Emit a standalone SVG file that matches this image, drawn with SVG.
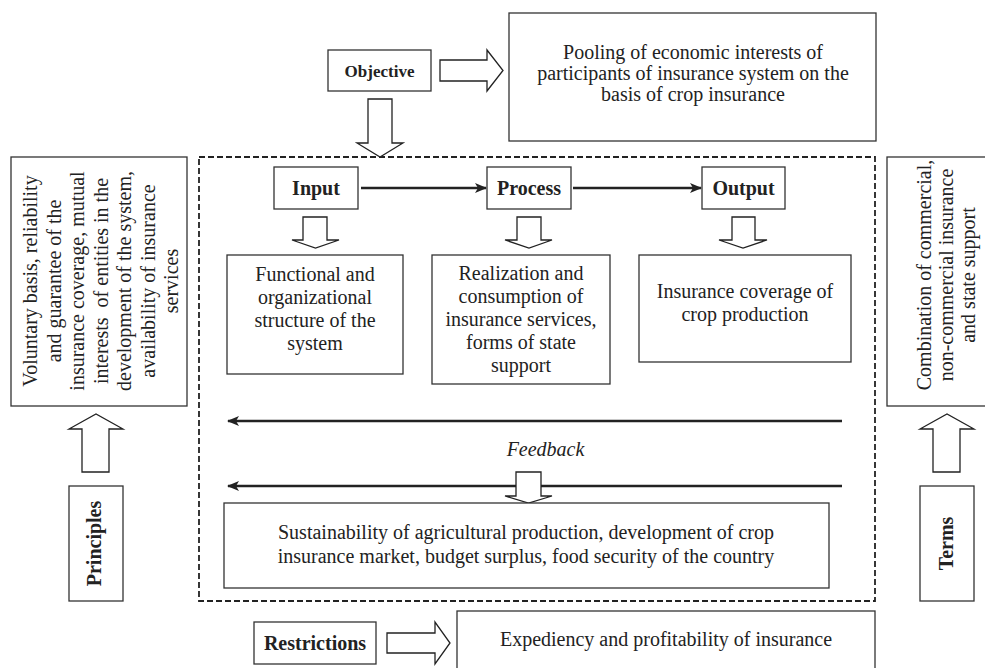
<svg xmlns="http://www.w3.org/2000/svg" width="985" height="668" viewBox="0 0 985 668">
<style>
.box{fill:#fff;stroke:#333;stroke-width:1.3}
.blk{fill:#fff;stroke:#222;stroke-width:1.3;stroke-linejoin:miter}
.t{font-family:"Liberation Serif","Times New Roman",serif;font-size:20px;fill:#222;text-anchor:middle}
.b{font-weight:bold}
.i{font-style:italic}
.ln{stroke:#222;stroke-width:2.6;fill:none}
.dash{fill:none;stroke:#222;stroke-width:1.8;stroke-dasharray:6 3}
</style>
<defs>
<marker id="ah" viewBox="0 0 12 10" refX="11" refY="5" markerWidth="12" markerHeight="10" markerUnits="userSpaceOnUse" orient="auto">
<path d="M0,0 L12,5 L0,10 L3,5 z" fill="#222"/>
</marker>
</defs>
<rect width="985" height="668" fill="#fff"/>

<rect id="system-boundary" class="dash" x="199" y="157" width="676" height="444"/>

<g id="connectors">
<path class="ln" d="M361,188 L486,188" marker-end="url(#ah)"/>
<path class="ln" d="M573,188 L701,188" marker-end="url(#ah)"/>
<path class="ln" d="M842,421 L228,421" marker-end="url(#ah)"/>
<path class="ln" d="M842,486 L228,486" marker-end="url(#ah)"/>
<polygon class="blk" points="440,60 487,60 487,50 503,70.5 487,91 487,81 440,81"/>
<polygon class="blk" points="368,99 392,99 392,143 403,143 380,157 357,143 368,143"/>
<polygon class="blk" points="303,217 327,217 327,240 339,240 315.5,248 292,240 303,240"/>
<polygon class="blk" points="517,217 541,217 541,240 552,240 529,248 505,240 517,240"/>
<polygon class="blk" points="732,217 755,217 755,240 767,240 743,248 719,240 732,240"/>
<polygon class="blk" points="516,472 541,472 541,496 552,496 528.5,503 505,496 516,496"/>
<polygon class="blk" points="82,472 109,472 109,429 123,429 96,414 69,429 82,429"/>
<polygon class="blk" points="933,472 960,472 960,429 974,429 947,414 920,429 933,429"/>
<polygon class="blk" points="387,633 435,633 435,622 450,643 435,664 435,653 387,653"/>
</g>

<g id="objective">
<rect class="box" x="328" y="50" width="103" height="41"/>
<text class="t b" x="379.5" y="77" style="font-size:17px">Objective</text>
</g>

<g id="pooling">
<rect class="box" x="509" y="13" width="367" height="128"/>
<text class="t" x="693" y="59">Pooling of economic interests of</text>
<text class="t" x="693" y="80">participants of insurance system on the</text>
<text class="t" x="693" y="101">basis of crop insurance</text>
</g>

<g id="input">
<rect class="box" x="274" y="167" width="84" height="42"/>
<text class="t b" x="316" y="195">Input</text>
</g>

<g id="process">
<rect class="box" x="487" y="167" width="84" height="42"/>
<text class="t b" x="529" y="195">Process</text>
</g>

<g id="output">
<rect class="box" x="702" y="167" width="83" height="42"/>
<text class="t b" x="743.5" y="195">Output</text>
</g>

<g id="functional">
<rect class="box" x="227" y="255" width="176" height="119"/>
<text class="t" x="315" y="281">Functional and</text>
<text class="t" x="315" y="304">organizational</text>
<text class="t" x="315" y="327">structure of the</text>
<text class="t" x="315" y="350">system</text>
</g>

<g id="realization">
<rect class="box" x="432" y="255" width="178" height="129"/>
<text class="t" x="521" y="280">Realization and</text>
<text class="t" x="521" y="303">consumption of</text>
<text class="t" x="521" y="326">insurance services,</text>
<text class="t" x="521" y="349">forms of state</text>
<text class="t" x="521" y="372">support</text>
</g>

<g id="coverage">
<rect class="box" x="639" y="255" width="212" height="107"/>
<text class="t" x="745" y="298">Insurance coverage of</text>
<text class="t" x="745" y="321">crop production</text>
</g>

<g id="feedback">
<text class="t i" x="545.5" y="456">Feedback</text>
</g>

<g id="sustainability">
<rect class="box" x="224" y="503" width="605" height="85"/>
<text class="t" x="526" y="539">Sustainability of agricultural production, development of crop</text>
<text class="t" x="526" y="563">insurance market, budget surplus, food security of the country</text>
</g>

<g id="principles-text">
<rect class="box" x="11" y="157" width="176" height="249"/>
<g transform="translate(99,281) rotate(-90)">
<text class="t" x="0" y="-62">Voluntary basis, reliability</text>
<text class="t" x="0" y="-38.5">and guarantee of the</text>
<text class="t" x="0" y="-15">insurance coverage, mutual</text>
<text class="t" x="0" y="8.5" xml:space="preserve">interests  of entities in the</text>
<text class="t" x="0" y="32">development of the system,</text>
<text class="t" x="0" y="55.5">availability of insurance</text>
<text class="t" x="0" y="79">services</text>
</g>
</g>

<g id="principles">
<rect class="box" x="69" y="486" width="54" height="115"/>
<text class="t b" transform="translate(101,543.5) rotate(-90)" x="0" y="0">Principles</text>
</g>

<g id="terms-text">
<rect class="box" x="887" y="157" width="110" height="249"/>
<g transform="translate(953,275) rotate(-90)">
<text class="t" x="0" y="-22">Combination of commercial,</text>
<text class="t" x="0" y="0">non-commercial insurance</text>
<text class="t" x="0" y="22">and state support</text>
</g>
</g>

<g id="terms">
<rect class="box" x="920" y="486" width="54" height="115"/>
<text class="t b" transform="translate(953,543.5) rotate(-90)" x="0" y="0">Terms</text>
</g>

<g id="restrictions">
<rect class="box" x="254" y="622" width="122" height="42"/>
<text class="t b" x="315" y="650">Restrictions</text>
</g>

<g id="expediency">
<rect class="box" x="457" y="611" width="418" height="70"/>
<text class="t" x="666" y="646">Expediency and profitability of insurance</text>
</g>
</svg>
